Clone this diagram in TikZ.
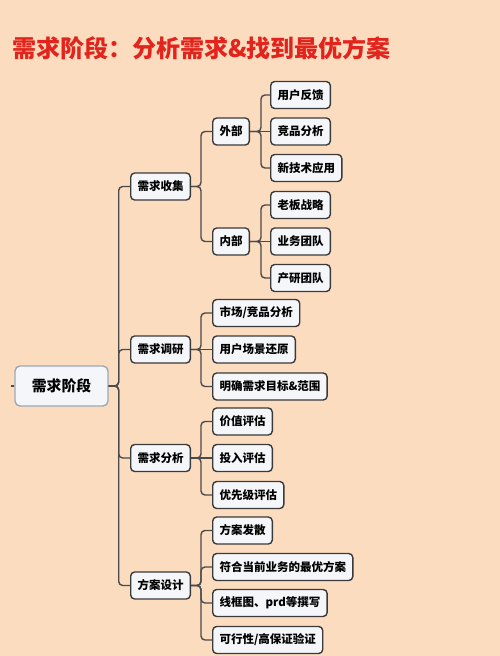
\documentclass[tikz,border=0pt]{standalone}
\usepackage{fontspec}
\setmainfont{Noto Sans CJK SC}
\usepackage{tikz}

\definecolor{peach}{HTML}{FCDCBF}
\definecolor{titlered}{HTML}{E3241C}
\definecolor{boxfill}{HTML}{F4F6F9}
\definecolor{boxline}{HTML}{3A3A3A}
\definecolor{rootline}{HTML}{9CA8B8}
\definecolor{linkgray}{HTML}{4A4A4A}

\begin{document}
\begin{tikzpicture}[x=1pt,y=-1pt,
  box/.style={draw=boxline,line width=1.4pt,fill=boxfill,rounded corners=4pt,
    minimum height=27pt,inner xsep=6.8pt,inner ysep=0pt,anchor=west,
    font=\fontsize{11.5}{13}\selectfont\bfseries},
  rootbox/.style={draw=rootline,line width=1.4pt,fill=boxfill,rounded corners=5pt,
    minimum width=93pt,minimum height=40pt,
    font=\fontsize{14.8}{17}\selectfont\bfseries},
  link/.style={draw=linkgray,line width=1.4pt,rounded corners=4pt}]
  \fill [peach] (0,0) rectangle (500,656);
  \useasboundingbox (0,0) rectangle (500,656);
  \node [anchor=west,text=titlered,inner sep=0pt,font=\fontsize{24}{28}\selectfont\bfseries](title) at (12,48) {需求阶段：分析需求\&找到最优方案};

  \node [rootbox](root) at (61.5,386) {需求阶段};
  \coordinate (stub) at (11,386);

  \node [box](collect) at (130,186.5) {需求收集};
  \node [box](survey) at (130,349.5) {需求调研};
  \node [box](analyse) at (130,458) {需求分析};
  \node [box](design) at (130,585.5) {方案设计};

  \node [box](outer) at (212,131.5) {外部};
  \node [box](inner) at (212,241.5) {内部};

  \node [box](feedback) at (270,95) {用户反馈};
  \node [box](rival) at (270,131.5) {竞品分析};
  \node [box](newtech) at (270,168) {新技术应用};
  \node [box](boss) at (270,205) {老板战略};
  \node [box](bizteam) at (270,241.5) {业务团队};
  \node [box](rdteam) at (270,278) {产研团队};

  \node [box](market) at (212,313) {市场/竞品分析};
  \node [box](scene) at (212,349.5) {用户场景还原};
  \node [box](goal) at (212,386.5) {明确需求目标\&范围};

  \node [box](value) at (212,421.5) {价值评估};
  \node [box](cost) at (212,458) {投入评估};
  \node [box](priority) at (212,495) {优先级评估};

  \node [box](diverge) at (212,530.5) {方案发散};
  \node [box](best) at (212,567) {符合当前业务的最优方案};
  \node [box](wireframe) at (212,603) {线框图、prd等撰写};
  \node [box](verify) at (212,640) {可行性/高保证验证};

  \begin{scope}[link]
    \draw (stub) -- (root.west);
    \draw (root.east) -- ++(10,0) |- (collect.west);
    \draw (root.east) -- ++(10,0) |- (survey.west);
    \draw (root.east) -- ++(10,0) |- (analyse.west);
    \draw (root.east) -- ++(10,0) |- (design.west);
    \draw (collect.east) -- ++(10,0) |- (outer.west);
    \draw (collect.east) -- ++(10,0) |- (inner.west);
    \draw (outer.east) -- ++(11,0) |- (feedback.west);
    \draw (outer.east) -- (rival.west);
    \draw (outer.east) -- ++(11,0) |- (newtech.west);
    \draw (inner.east) -- ++(11,0) |- (boss.west);
    \draw (inner.east) -- (bizteam.west);
    \draw (inner.east) -- ++(11,0) |- (rdteam.west);
    \draw (survey.east) -- ++(10,0) |- (market.west);
    \draw (survey.east) -- (scene.west);
    \draw (survey.east) -- ++(10,0) |- (goal.west);
    \draw (analyse.east) -- ++(10,0) |- (value.west);
    \draw (analyse.east) -- (cost.west);
    \draw (analyse.east) -- ++(10,0) |- (priority.west);
    \draw (design.east) -- ++(10,0) |- (diverge.west);
    \draw (design.east) -- ++(10,0) |- (best.west);
    \draw (design.east) -- ++(10,0) |- (wireframe.west);
    \draw (design.east) -- ++(10,0) |- (verify.west);
  \end{scope}
\end{tikzpicture}
\end{document}
